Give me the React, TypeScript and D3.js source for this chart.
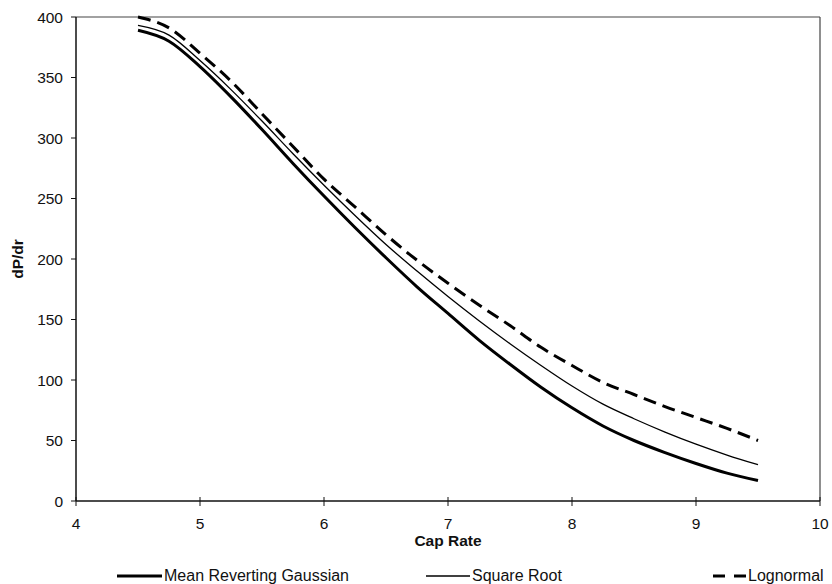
import React from "react";
import * as d3 from "d3";

const capRates = [4.5, 4.75, 5, 5.25, 5.5, 5.75, 6, 6.25, 6.5, 6.75, 7, 7.25, 7.5, 7.75, 8, 8.25, 8.5, 8.75, 9, 9.25, 9.5];
const meanRevertingGaussian = [389, 380, 359, 334, 307, 279, 252, 226, 201, 177, 155, 133, 113, 94, 77, 62, 50, 40, 31, 23, 17];
const squareRoot = [393, 385, 364, 340, 314, 287, 261, 236, 212, 190, 169, 149, 130, 112, 95, 80, 68, 57, 47, 38, 30];
const lognormal = [400, 391, 370, 347, 320, 293, 266, 243, 220, 199, 180, 162, 145, 127, 112, 98, 88, 78, 69, 60, 50];
const xTicks = [4, 5, 6, 7, 8, 9, 10];
const yTicks = [0, 50, 100, 150, 200, 250, 300, 350, 400];

const W = 832, H = 584;
const L = 76, R = 820, T = 17, B = 501;
const FONT = "'Liberation Sans', Arial, sans-serif";

export default function App() {
  const x = d3.scaleLinear().domain([4, 10]).range([L, R]);
  const y = d3.scaleLinear().domain([0, 400]).range([B, T]);
  const line = d3.line<[number, number]>().x(d => x(d[0])).y(d => y(d[1])).curve(d3.curveMonotoneX);
  const mk = (vals: number[]) => line(capRates.map((c, i) => [c, vals[i]] as [number, number])) || "";

  const series = [
    { name: "Mean Reverting Gaussian", vals: meanRevertingGaussian, w: 3, dash: undefined as string | undefined, lx1: 117, lx2: 162 },
    { name: "Square Root", vals: squareRoot, w: 1.3, dash: undefined, lx1: 426, lx2: 470 },
    { name: "Lognormal", vals: lognormal, w: 3, dash: "13,7", lx1: 713, lx2: 746 },
  ];

  return (
    <svg width={W} height={H} style={{ position: "absolute", left: 0, top: 0, background: "#fff" }} fontFamily={FONT}>
      <rect x={0} y={0} width={W} height={H} fill="#fff" />
      <line x1={L} y1={T} x2={R} y2={T} stroke="#444" strokeWidth={1.2} />
      <line x1={R} y1={T} x2={R} y2={B} stroke="#444" strokeWidth={1.2} />
      <line x1={L} y1={T} x2={L} y2={B} stroke="#111" strokeWidth={1.5} />
      <line x1={L} y1={B} x2={R} y2={B} stroke="#111" strokeWidth={1.5} />
      {yTicks.map(t => (
        <g key={"y" + t}>
          <line x1={L - 5} x2={L} y1={y(t)} y2={y(t)} stroke="#111" strokeWidth={1} />
          <text x={L - 13} y={y(t) + 5.5} textAnchor="end" fontSize={15.5} fill="#111">{t}</text>
        </g>
      ))}
      {xTicks.map(t => (
        <g key={"x" + t}>
          <line x1={x(t)} x2={x(t)} y1={B - 4} y2={B + 5} stroke="#111" strokeWidth={1} />
          <text x={x(t)} y={529} textAnchor="middle" fontSize={15.5} fill="#111">{t}</text>
        </g>
      ))}
      <text x={x(7)} y={546} textAnchor="middle" fontSize={15.5} fontWeight="bold" fill="#111">Cap Rate</text>
      <text transform={`translate(23,${(T + B) / 2}) rotate(-90)`} textAnchor="middle" fontSize={15.5} fontWeight="bold" fill="#111">dP/dr</text>
      {series.map(s => (
        <path key={s.name} d={mk(s.vals)} fill="none" stroke="#000" strokeWidth={s.w} strokeDasharray={s.dash} strokeLinejoin="round" />
      ))}
      {series.map(s => (
        <g key={"lg" + s.name}>
          {s.dash ? (
            <>
              <line x1={s.lx1} x2={s.lx1 + 12} y1={576} y2={576} stroke="#000" strokeWidth={3} />
              <line x1={s.lx2 - 12} x2={s.lx2} y1={576} y2={576} stroke="#000" strokeWidth={3} />
            </>
          ) : (
            <line x1={s.lx1} x2={s.lx2} y1={576} y2={576} stroke="#000" strokeWidth={s.w} />
          )}
          <text x={s.lx2 + 2} y={581} fontSize={16} fill="#111">{s.name}</text>
        </g>
      ))}
    </svg>
  );
}
